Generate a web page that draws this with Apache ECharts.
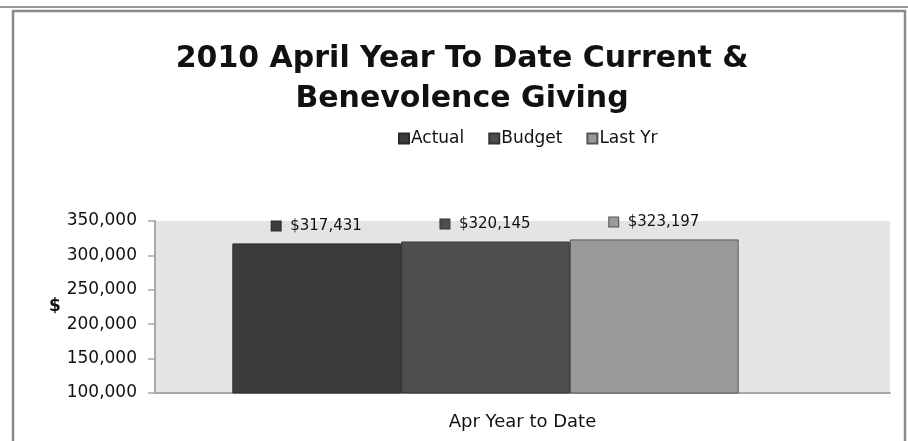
<!DOCTYPE html>
<html><head><meta charset="utf-8">
<script src="https://cdn.jsdelivr.net/npm/echarts@6/dist/echarts.min.js"></script>
<style>html,body{margin:0;padding:0;background:#fff}#c{width:908px;height:441px}</style>
</head><body><div id="c"></div>
<script>
const categories = ["Apr Year to Date"];
const seriesNames = ["Actual", "Budget", "Last Yr"];
const actual = [317431];
const budget = [320145];
const lastYr = [323197];
const yTicks = [100000, 150000, 200000, 250000, 300000, 350000];
const colors = ["#3c3c3c", "#4e4e4e", "#999999"];
const borders = ["#2a2a2a", "#333333", "#555555"];
const FONT = "DejaVu Sans";

const chart = echarts.init(document.getElementById('c'));
const fmtMoney = v => '$' + v.toLocaleString('en-US');
function mkSeries(name, data, i) {
  return {
    name, type: 'bar', data, barGap: '0%', barCategoryGap: '23.4%',
    xAxisIndex: 1, yAxisIndex: 1,
    itemStyle: { color: colors[i], borderColor: borders[i], borderWidth: 1 },
    label: {
      show: true, position: 'top', distance: 10,
      formatter: p => '{k|}  ' + fmtMoney(p.value),
      color: '#111', fontFamily: FONT, fontSize: 15,
      rich: { k: { width: 9, height: 9, backgroundColor: colors[i], borderColor: borders[i], borderWidth: 1 } }
    }
  };
}
const yMin = yTicks[0], yMax = yTicks[yTicks.length - 1];
chart.setOption({
  animation: false,
  backgroundColor: '#fff',
  title: {
    text: '2010 April Year To Date Current &\nBenevolence Giving',
    left: 457, top: 34, textAlign: 'center',
    textStyle: { fontFamily: FONT, fontWeight: 'bold', fontSize: 30, lineHeight: 40, color: '#111' }
  },
  legend: {
    data: seriesNames, top: 125, left: 393, itemWidth: 10, itemHeight: 10, itemGap: 24,
    icon: 'rect',
    textStyle: { fontFamily: FONT, fontSize: 17, color: '#111', padding: [0, 0, 0, -3] }
  },
  grid: [
    { left: 155, right: 18, top: 221, bottom: 48, show: true, backgroundColor: '#e4e4e4', borderWidth: 0 },
    { left: 155, right: 92, top: 221, bottom: 48 }
  ],
  xAxis: [{
    type: 'category', data: categories, gridIndex: 0,
    axisLine: { lineStyle: { color: '#a8a8a8', width: 2 } },
    axisTick: { show: false },
    axisLabel: { fontFamily: FONT, fontSize: 18, color: '#111', margin: 20 }
  }, {
    type: 'category', data: categories, gridIndex: 1, show: false
  }],
  yAxis: [{
    type: 'value', min: yMin, max: yMax, interval: 50000, gridIndex: 0,
    name: '$', nameLocation: 'middle', nameRotate: 0, nameGap: 94,
    nameTextStyle: { fontFamily: FONT, fontSize: 17, fontWeight: 'bold', color: '#111', padding: [0, 0, 6, 0] },
    axisLine: { show: true, lineStyle: { color: '#a8a8a8', width: 2 } },
    axisTick: { show: true, length: 7, lineStyle: { color: '#a8a8a8', width: 1.5 } },
    splitLine: { show: false },
    axisLabel: { fontFamily: FONT, fontSize: 17, color: '#111', margin: 18,
      formatter: v => v.toLocaleString('en-US') }
  }, {
    type: 'value', min: yMin, max: yMax, interval: 50000, gridIndex: 1, show: false, splitLine: { show: false }
  }],
  graphic: [
    { type: 'line', shape: { x1: 0, y1: 7, x2: 908, y2: 7 }, style: { stroke: '#999', lineWidth: 2 } },
    { type: 'rect', shape: { x: 13, y: 11, width: 892, height: 440 }, style: { fill: 'none', stroke: '#8a8a8a', lineWidth: 2.5 } }
  ],
  series: [mkSeries(seriesNames[0], actual, 0), mkSeries(seriesNames[1], budget, 1), mkSeries(seriesNames[2], lastYr, 2)]
});
</script></body></html>
